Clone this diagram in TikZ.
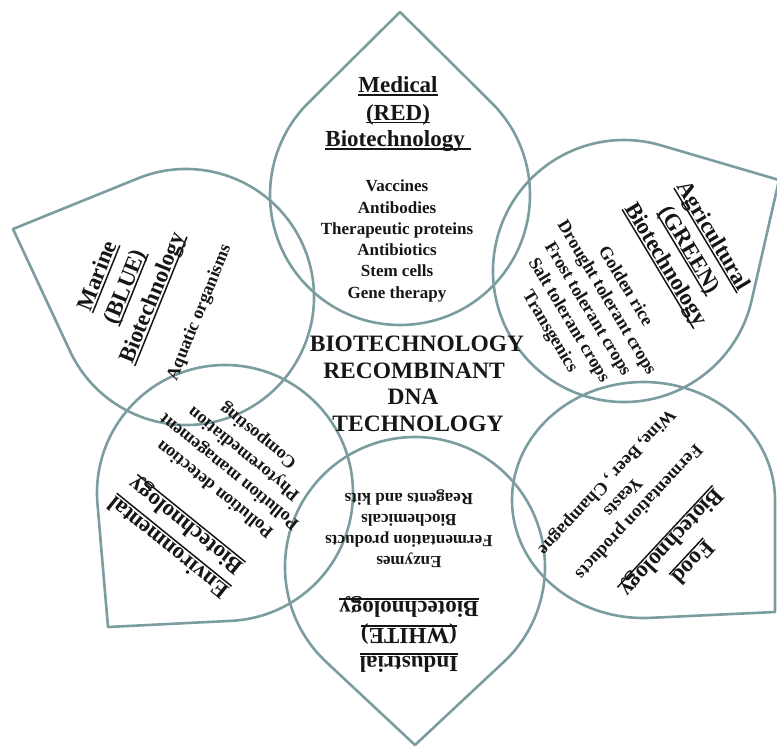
\documentclass[tikz,border=0pt]{standalone}
\usepackage{fontspec}
\setmainfont{Liberation Serif}
\usetikzlibrary{calc}
\definecolor{dropcol}{RGB}{124,157,160}
\definecolor{ink}{RGB}{22,22,22}
\newcommand\ulin[1]{\setbox0\hbox{#1}\rlap{\rule[-3.2pt]{\wd0}{1.5pt}}\box0}
% teardrop: centre (cx,cy), radii rx ry, tip (tx,ty), image coordinates
\newcommand\drop[6]{%
  \pgfmathsetmacro\dU{(#5-#1)/#3}%
  \pgfmathsetmacro\dV{(#6-#2)/#4}%
  \pgfmathsetmacro\dD{veclen(\dU,\dV)}%
  \pgfmathsetmacro\dP{atan2(\dV,\dU)}%
  \pgfmathsetmacro\dA{acos(1/\dD)}%
  \pgfmathsetmacro\dS{\dP+\dA}%
  \pgfmathsetmacro\dE{\dP+360-\dA}%
  \draw[dropline] (#5,#6) -- ($(#1,#2)+(\dS:#3 and #4)$)
     arc[start angle=\dS, end angle=\dE, x radius=#3, y radius=#4] -- cycle;}
\tikzset{
  dropline/.style={draw=dropcol, line width=2.6pt, line join=round},
  ttl/.style={anchor=base, inner sep=0pt, text=ink, font=\bfseries\fontsize{23}{23}\selectfont},
  itm/.style={anchor=base, inner sep=0pt, text=ink, font=\bfseries\fontsize{18}{18}\selectfont},
  itms/.style={anchor=base, inner sep=0pt, text=ink, font=\bfseries\fontsize{17}{17}\selectfont},
  ctr/.style={anchor=base, inner sep=0pt, text=ink, font=\bfseries\fontsize{23.5}{23.5}\selectfont}
}
\begin{document}
\begin{tikzpicture}[x=1pt,y=-1pt]
\useasboundingbox (0,0) rectangle (777,747);
\clip (0,0) rectangle (777,747);
% shapes
\drop{400}{195}{130}{130}{400}{12}
\drop{624}{271}{131}{131}{779}{180}
\drop{186}{297}{128}{128}{13}{229}
\drop{225}{493}{128}{128}{108}{627}
\drop{415}{567}{130}{130}{415}{745}
\drop{643.5}{500}{131.5}{118}{775}{612}
% centre text
\node[ctr] (c1) at (417,351.5) {BIOTECHNOLOGY};
\node[ctr] (c2) at (414,378) {RECOMBINANT};
\node[ctr] (c3) at (413,404.5) {DNA};
\node[ctr] (c4) at (418,431) {TECHNOLOGY};
% Medical
\begin{scope}[shift={(398,92.7)}]
\node[ttl] (m1) at (0,0) {\ulin{Medical}};
\node[ttl] (m2) at (0,27.3) {\ulin{(RED)}};
\node[ttl] (m3) at (0,54) {\ulin{Biotechnology\ }};
\node[itms] (m4) at (-1,99) {Vaccines};
\node[itms] (m5) at (-1,120.3) {Antibodies};
\node[itms] (m6) at (-1,141.6) {Therapeutic proteins};
\node[itms] (m7) at (-1,162.9) {Antibiotics};
\node[itms] (m8) at (-1,184.2) {Stem cells};
\node[itms] (m9) at (-1,205.5) {Gene therapy};
\end{scope}
% Agricultural
\begin{scope}[shift={(707.6,239.3)},rotate=-59,transform shape]
\node[ttl] (a1) at (0,0) {\ulin{Agricultural}};
\node[ttl] (a2) at (0,27.7) {\ulin{(GREEN)}};
\node[ttl] (a3) at (0,55.4) {\ulin{Biotechnology}};
\node[itm] (a4) at (-2,99.5) {Golden rice};
\node[itm] (a5) at (-2,121.5) {Drought tolerant crops};
\node[itm] (a6) at (-2,143.5) {Frost tolerant crops};
\node[itm] (a7) at (-2,165.5) {Salt tolerant crops};
\node[itm] (a8) at (-2,187.5) {Transgenics};
\end{scope}
% Marine
\begin{scope}[shift={(103.9,278.3)},rotate=68,transform shape]
\node[ttl] (b1) at (0,0) {\ulin{Marine}};
\node[ttl] (b2) at (0,29.5) {\ulin{(BLUE)}};
\node[ttl] (b3) at (0,59) {\ulin{Biotechnology}};
\node[itm] (b4) at (4,106) {Aquatic organisms};
\end{scope}
% Environmental
\begin{scope}[shift={(172.6,541.6)},rotate=141,transform shape]
\node[ttl] (e1) at (0,0) {\ulin{Environmental}};
\node[ttl] (e2) at (0,27.5) {\ulin{Biotechnology}};
\node[itm] (e3) at (0,72.4) {Pollution detection};
\node[itm] (e4) at (0,95.2) {Pollution management};
\node[itm] (e5) at (0,118) {Phytoremediation};
\node[itm] (e6) at (0,140.8) {Composting};
\end{scope}
% Industrial
\begin{scope}[shift={(409,656.3)},rotate=180,transform shape]
\node[ttl] (i1) at (0,0) {\ulin{Industrial}};
\node[ttl] (i2) at (0,28) {\ulin{(WHITE)}};
\node[ttl] (i3) at (0,55) {\ulin{Biotechnology}};
\node[itms] (i4) at (0,99.6) {Enzymes};
\node[itms] (i5) at (0,120.8) {Fermentation products};
\node[itms] (i6) at (0,141.9) {Biochemicals};
\node[itms] (i7) at (0,163) {Reagents and kits};
\end{scope}
% Food
\begin{scope}[shift={(688,557.8)},rotate=-133,transform shape]
\node[ttl] (f1) at (0,0) {\ulin{Food}};
\node[ttl] (f2) at (0,29) {\ulin{Biotechnology}};
\node[itm] (f3) at (0,72.4) {Fermentation products};
\node[itm] (f4) at (0,94.2) {Yeasts};
\node[itm] (f5) at (0,116) {Wine, Beer , Champagne};
\end{scope}
\end{tikzpicture}
\end{document}
